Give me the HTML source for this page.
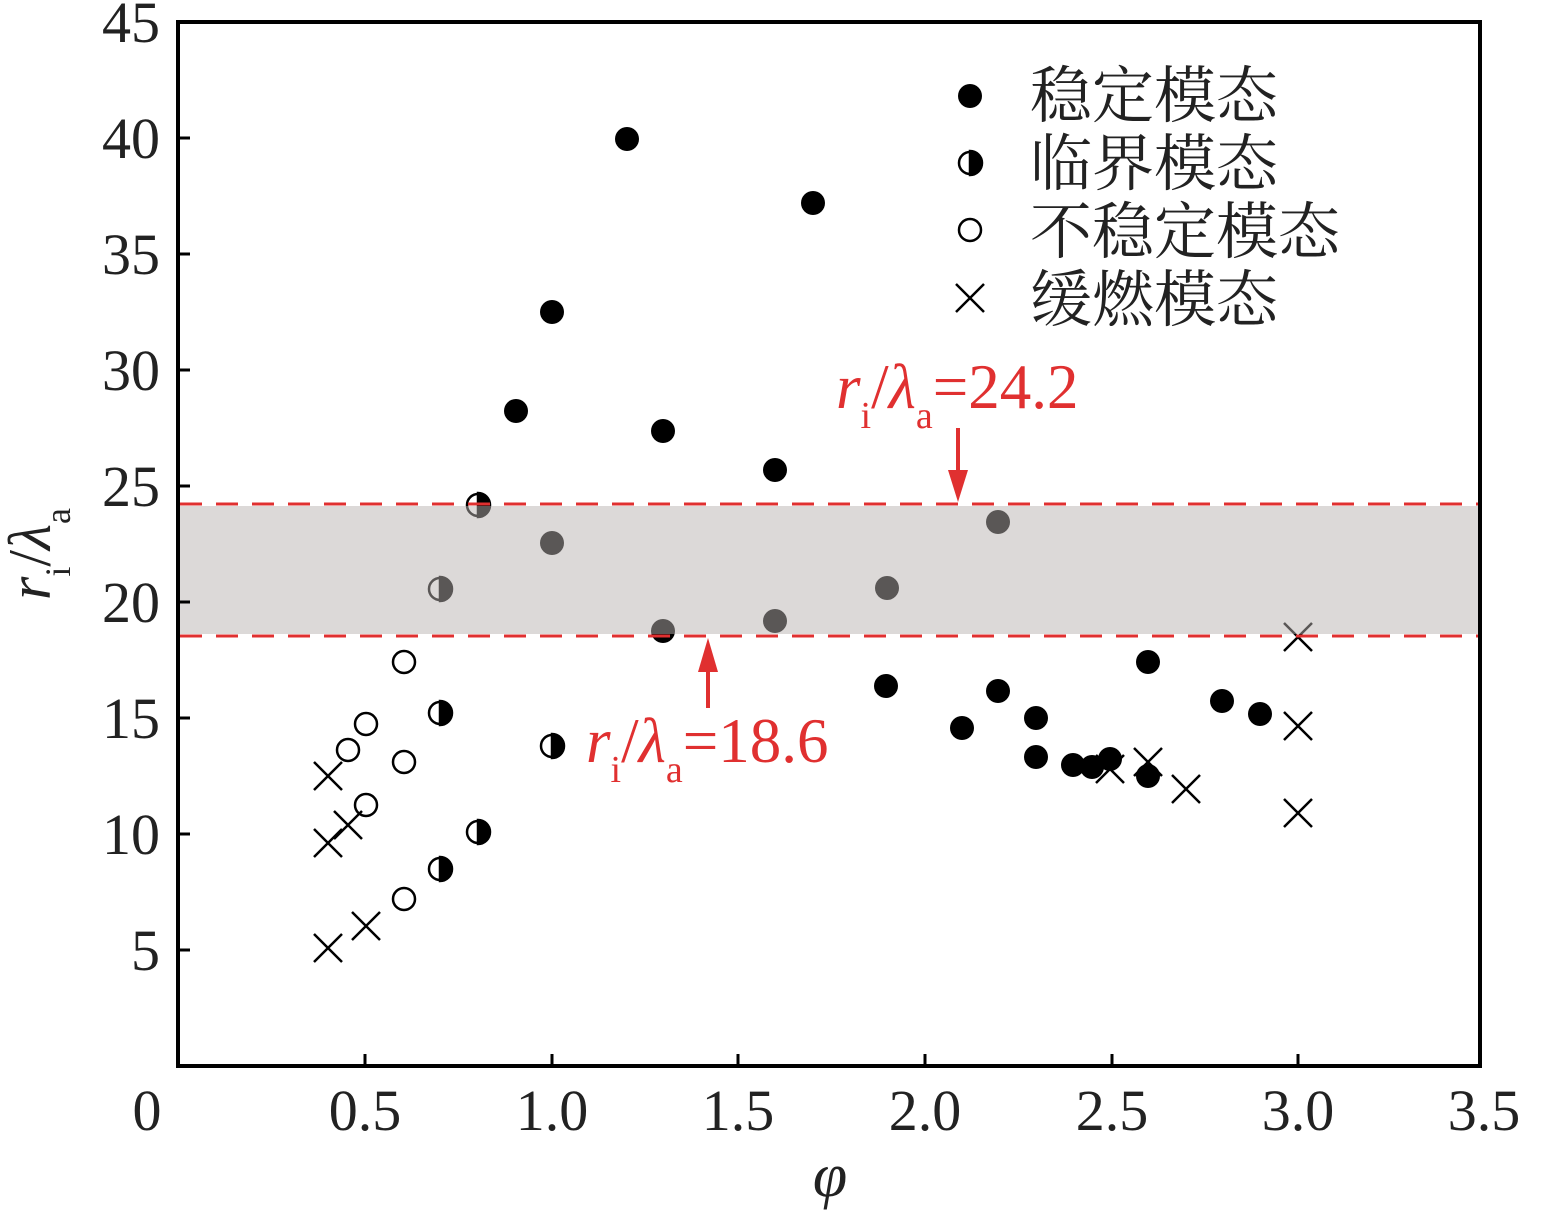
<!DOCTYPE html><html><head><meta charset="utf-8"><style>body{margin:0;background:#fff}</style></head><body>
<svg width="1543" height="1216" xmlns="http://www.w3.org/2000/svg" font-family="Liberation Serif, serif">
<rect width="1543" height="1216" fill="#fff"/>
<g id="m">
<g fill="#000">
<circle cx="627" cy="139" r="12"/><circle cx="813" cy="203" r="12"/><circle cx="552" cy="312" r="12"/><circle cx="516" cy="411" r="12"/><circle cx="663" cy="431" r="12"/><circle cx="775" cy="470" r="12"/><circle cx="998" cy="522" r="12"/><circle cx="552" cy="543" r="12"/><circle cx="887" cy="588" r="12"/><circle cx="775" cy="621" r="12"/><circle cx="663" cy="631" r="12"/><circle cx="886" cy="686" r="12"/><circle cx="998" cy="691" r="12"/><circle cx="962" cy="728" r="12"/><circle cx="1036" cy="718" r="12"/><circle cx="1036" cy="757" r="12"/><circle cx="1073" cy="765" r="12"/><circle cx="1092" cy="767" r="12"/><circle cx="1110" cy="759" r="12"/><circle cx="1148" cy="776" r="12"/><circle cx="1148" cy="662" r="12"/><circle cx="1222" cy="701" r="12"/><circle cx="1260" cy="714" r="12"/>
<circle cx="970" cy="96" r="12"/>
</g>
<g stroke="#000" stroke-width="2.5">
<path d="M478 493a12 12 0 0 1 0 24z M440 577a12 12 0 0 1 0 24z M440 701a12 12 0 0 1 0 24z M552 734a12 12 0 0 1 0 24z M478 820a12 12 0 0 1 0 24z M440 857a12 12 0 0 1 0 24z M970 151a12 12 0 0 1 0 24z" fill="#000"/>
<g fill="none">
<circle cx="478" cy="505" r="11"/><circle cx="440" cy="589" r="11"/><circle cx="440" cy="713" r="11"/><circle cx="552" cy="746" r="11"/><circle cx="478" cy="832" r="11"/><circle cx="440" cy="869" r="11"/><circle cx="970" cy="163" r="11"/>
<circle cx="404" cy="662" r="11"/><circle cx="366" cy="724" r="11"/><circle cx="348" cy="750" r="11"/><circle cx="404" cy="762" r="11"/><circle cx="366" cy="805" r="11"/><circle cx="404" cy="899" r="11"/><circle cx="970" cy="230" r="11"/>
</g>
<path fill="none" d="M314 762l28 28m0-28l-28 28 M314 829l28 28m0-28l-28 28 M334 811l28 28m0-28l-28 28 M352 912l28 28m0-28l-28 28 M314 934l28 28m0-28l-28 28 M1096 755l28 28m0-28l-28 28 M1134 748l28 28m0-28l-28 28 M1172 775l28 28m0-28l-28 28 M1284 623l28 28m0-28l-28 28 M1284 712l28 28m0-28l-28 28 M1284 799l28 28m0-28l-28 28 M956 284l28 28m0-28l-28 28"/>
</g>
</g>
<rect x="180" y="506" width="1298" height="128" fill="rgb(184,178,176)" fill-opacity="0.49"/>
<g stroke="#e03030" stroke-width="3" stroke-dasharray="22,14">
<line x1="180" y1="504" x2="1478" y2="504"/><line x1="180" y1="636" x2="1478" y2="636"/>
</g>
<g stroke="#e03030" stroke-width="4" fill="#e03030">
<line x1="958" y1="428" x2="958" y2="480"/><path d="M948 470h20l-10 32z" stroke="none"/>
<line x1="708" y1="708" x2="708" y2="660"/><path d="M698 672h20l-10 -34z" stroke="none"/>
</g>
<g fill="#e03030" font-size="63">
<text x="836" y="408"><tspan font-style="italic">r</tspan><tspan font-size="38" dy="20">i</tspan><tspan dy="-20">/</tspan><tspan font-style="italic">λ</tspan><tspan font-size="38" dy="20">a</tspan><tspan dy="-20">=24.2</tspan></text>
<text x="586" y="762"><tspan font-style="italic">r</tspan><tspan font-size="38" dy="20">i</tspan><tspan dy="-20">/</tspan><tspan font-style="italic">λ</tspan><tspan font-size="38" dy="20">a</tspan><tspan dy="-20">=18.6</tspan></text>
</g>
<rect x="178" y="22" width="1302" height="1044" fill="none" stroke="#000" stroke-width="4"/>
<g stroke="#000" stroke-width="3">
<path d="M178 950h12M178 834h12M178 718h12M178 602h12M178 486h12M178 370h12M178 254h12M178 138h12M365 1066v-12M552 1066v-12M738 1066v-12M925 1066v-12M1112 1066v-12M1298 1066v-12"/>
</g>
<g font-size="58" fill="#222" text-anchor="end">
<text x="160" y="970">5</text><text x="160" y="854">10</text><text x="160" y="738">15</text><text x="160" y="622">20</text><text x="160" y="506">25</text><text x="160" y="390">30</text><text x="160" y="274">35</text><text x="160" y="158">40</text><text x="160" y="42">45</text>
</g>
<g font-size="58" fill="#222" text-anchor="middle">
<text x="147" y="1130">0</text><text x="365" y="1130">0.5</text><text x="552" y="1130">1.0</text><text x="738" y="1130">1.5</text><text x="925" y="1130">2.0</text><text x="1112" y="1130">2.5</text><text x="1298" y="1130">3.0</text><text x="1484" y="1130">3.5</text>
<text x="830" y="1196" font-style="italic" font-size="62">φ</text>
</g>
<text transform="translate(50,600) rotate(-90)" font-size="60" fill="#222"><tspan font-style="italic">r</tspan><tspan font-size="36" dy="20">i</tspan><tspan dy="-20">/</tspan><tspan font-style="italic">λ</tspan><tspan font-size="36" dy="20">a</tspan></text>
<g font-size="62" fill="#222" font-family="Liberation Serif, 'Noto Serif CJK SC', serif">
<text x="1030" y="117">稳定模态</text><text x="1030" y="185">临界模态</text><text x="1030" y="253">不稳定模态</text><text x="1030" y="321">缓燃模态</text>
</g>
</svg>
</body></html>
